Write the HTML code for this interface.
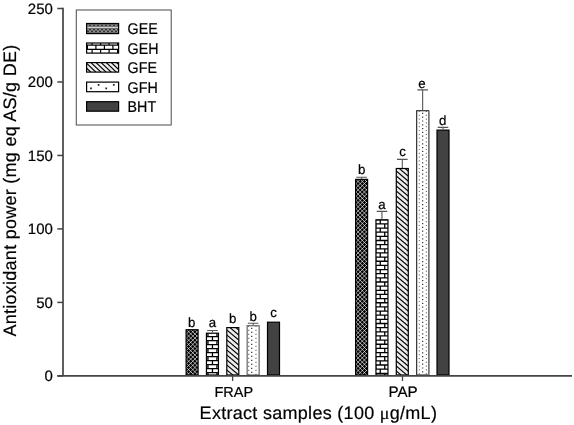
<!DOCTYPE html><html><head><meta charset="utf-8"><style>html,body{margin:0;padding:0;background:#fff;}text{stroke:#000;stroke-width:0.2px;text-rendering:geometricPrecision;}svg{display:block;filter:blur(0.3px);}</style></head><body>
<svg width="574" height="425" viewBox="0 0 574 425" font-family='"Liberation Sans", sans-serif'>
<rect width="574" height="425" fill="#fff"/>
<clipPath id="c1"><rect x="186.1" y="329.7" width="12" height="45.3"/></clipPath>
<g clip-path="url(#c1)">
<rect x="186.1" y="329.7" width="12" height="45.3" fill="#000"/>
<path d="M136.1,329.7 L181.4,375 M136.1,329.7 L90.8,375 M140.3,329.7 L185.6,375 M140.3,329.7 L95,375 M144.5,329.7 L189.8,375 M144.5,329.7 L99.2,375 M148.7,329.7 L194,375 M148.7,329.7 L103.4,375 M152.9,329.7 L198.2,375 M152.9,329.7 L107.6,375 M157.1,329.7 L202.4,375 M157.1,329.7 L111.8,375 M161.3,329.7 L206.6,375 M161.3,329.7 L116,375 M165.5,329.7 L210.8,375 M165.5,329.7 L120.2,375 M169.7,329.7 L215,375 M169.7,329.7 L124.4,375 M173.9,329.7 L219.2,375 M173.9,329.7 L128.6,375 M178.1,329.7 L223.4,375 M178.1,329.7 L132.8,375 M182.3,329.7 L227.6,375 M182.3,329.7 L137,375 M186.5,329.7 L231.8,375 M186.5,329.7 L141.2,375 M190.7,329.7 L236,375 M190.7,329.7 L145.4,375 M194.9,329.7 L240.2,375 M194.9,329.7 L149.6,375 M199.1,329.7 L244.4,375 M199.1,329.7 L153.8,375 M203.3,329.7 L248.6,375 M203.3,329.7 L158,375 M207.5,329.7 L252.8,375 M207.5,329.7 L162.2,375 M211.7,329.7 L257,375 M211.7,329.7 L166.4,375 M215.9,329.7 L261.2,375 M215.9,329.7 L170.6,375 M220.1,329.7 L265.4,375 M220.1,329.7 L174.8,375 M224.3,329.7 L269.6,375 M224.3,329.7 L179,375 M228.5,329.7 L273.8,375 M228.5,329.7 L183.2,375 M232.7,329.7 L278,375 M232.7,329.7 L187.4,375 M236.9,329.7 L282.2,375 M236.9,329.7 L191.6,375 M241.1,329.7 L286.4,375 M241.1,329.7 L195.8,375 M245.3,329.7 L290.6,375 M245.3,329.7 L200,375 M249.5,329.7 L294.8,375 M249.5,329.7 L204.2,375" stroke="#f4f4f4" stroke-width="0.68" fill="none"/>
</g>
<rect x="186.1" y="329.7" width="12" height="45.3" fill="none" stroke="#000" stroke-width="1.2"/>
<text transform="translate(191.8,326.5) scale(0.99,1)" font-size="13.4" text-anchor="middle">b</text>
<clipPath id="c2"><rect x="206.45" y="333.2" width="12" height="41.8"/></clipPath>
<g clip-path="url(#c2)">
<rect x="206.45" y="333.2" width="12" height="41.8" fill="#fff"/>
<path d="M206.45,328.6 H218.45 M194.45,328.6 V332.6 M203.45,328.6 V332.6 M212.45,328.6 V332.6 M221.45,328.6 V332.6 M230.45,328.6 V332.6 M206.45,332.6 H218.45 M189.95,332.6 V336.6 M198.95,332.6 V336.6 M207.95,332.6 V336.6 M216.95,332.6 V336.6 M225.95,332.6 V336.6 M234.95,332.6 V336.6 M206.45,336.6 H218.45 M194.45,336.6 V340.6 M203.45,336.6 V340.6 M212.45,336.6 V340.6 M221.45,336.6 V340.6 M230.45,336.6 V340.6 M206.45,340.6 H218.45 M189.95,340.6 V344.6 M198.95,340.6 V344.6 M207.95,340.6 V344.6 M216.95,340.6 V344.6 M225.95,340.6 V344.6 M234.95,340.6 V344.6 M206.45,344.6 H218.45 M194.45,344.6 V348.6 M203.45,344.6 V348.6 M212.45,344.6 V348.6 M221.45,344.6 V348.6 M230.45,344.6 V348.6 M206.45,348.6 H218.45 M189.95,348.6 V352.6 M198.95,348.6 V352.6 M207.95,348.6 V352.6 M216.95,348.6 V352.6 M225.95,348.6 V352.6 M234.95,348.6 V352.6 M206.45,352.6 H218.45 M194.45,352.6 V356.6 M203.45,352.6 V356.6 M212.45,352.6 V356.6 M221.45,352.6 V356.6 M230.45,352.6 V356.6 M206.45,356.6 H218.45 M189.95,356.6 V360.6 M198.95,356.6 V360.6 M207.95,356.6 V360.6 M216.95,356.6 V360.6 M225.95,356.6 V360.6 M234.95,356.6 V360.6 M206.45,360.6 H218.45 M194.45,360.6 V364.6 M203.45,360.6 V364.6 M212.45,360.6 V364.6 M221.45,360.6 V364.6 M230.45,360.6 V364.6 M206.45,364.6 H218.45 M189.95,364.6 V368.6 M198.95,364.6 V368.6 M207.95,364.6 V368.6 M216.95,364.6 V368.6 M225.95,364.6 V368.6 M234.95,364.6 V368.6 M206.45,368.6 H218.45 M194.45,368.6 V372.6 M203.45,368.6 V372.6 M212.45,368.6 V372.6 M221.45,368.6 V372.6 M230.45,368.6 V372.6 M206.45,372.6 H218.45 M189.95,372.6 V376.6 M198.95,372.6 V376.6 M207.95,372.6 V376.6 M216.95,372.6 V376.6 M225.95,372.6 V376.6 M234.95,372.6 V376.6 M206.45,376.6 H218.45 M194.45,376.6 V380.6 M203.45,376.6 V380.6 M212.45,376.6 V380.6 M221.45,376.6 V380.6 M230.45,376.6 V380.6 M206.45,380.6 H218.45 M189.95,380.6 V384.6 M198.95,380.6 V384.6 M207.95,380.6 V384.6 M216.95,380.6 V384.6 M225.95,380.6 V384.6 M234.95,380.6 V384.6" stroke="#000" stroke-width="1.3" fill="none"/>
</g>
<rect x="206.45" y="333.2" width="12" height="41.8" fill="none" stroke="#000" stroke-width="1.2"/>
<path d="M212.45,332.6 V330.5 M207.15,330.5 H217.75" stroke="#555" stroke-width="1.1" fill="none"/>
<text transform="translate(212.45,327.4) scale(0.99,1)" font-size="13.4" text-anchor="middle">a</text>
<clipPath id="c3"><rect x="226.8" y="327.6" width="12" height="47.4"/></clipPath>
<g clip-path="url(#c3)">
<rect x="226.8" y="327.6" width="12" height="47.4" fill="#ececec"/>
<path d="M225.8,309.06 L239.8,320.96 M225.8,314.06 L239.8,325.96 M225.8,319.06 L239.8,330.96 M225.8,324.06 L239.8,335.96 M225.8,329.06 L239.8,340.96 M225.8,334.06 L239.8,345.96 M225.8,339.06 L239.8,350.96 M225.8,344.06 L239.8,355.96 M225.8,349.06 L239.8,360.96 M225.8,354.06 L239.8,365.96 M225.8,359.06 L239.8,370.96 M225.8,364.06 L239.8,375.96 M225.8,369.06 L239.8,380.96 M225.8,374.06 L239.8,385.96 M225.8,379.06 L239.8,390.96 M225.8,384.06 L239.8,395.96" stroke="#000" stroke-width="1.1" fill="none"/>
</g>
<rect x="226.8" y="327.6" width="12" height="47.4" fill="none" stroke="#000" stroke-width="1.2"/>
<text transform="translate(232.8,323.3) scale(0.99,1)" font-size="13.4" text-anchor="middle">b</text>
<clipPath id="c4"><rect x="247.15" y="325.7" width="12" height="49.3"/></clipPath>
<g clip-path="url(#c4)">
<rect x="247.15" y="325.7" width="12" height="49.3" fill="#fff"/>
<path d="M248.05,317.7 h1.2 v1.2 h-1.2z M248.05,321.7 h1.2 v1.2 h-1.2z M248.05,325.7 h1.2 v1.2 h-1.2z M248.05,329.7 h1.2 v1.2 h-1.2z M248.05,333.7 h1.2 v1.2 h-1.2z M248.05,337.7 h1.2 v1.2 h-1.2z M248.05,341.7 h1.2 v1.2 h-1.2z M248.05,345.7 h1.2 v1.2 h-1.2z M248.05,349.7 h1.2 v1.2 h-1.2z M248.05,353.7 h1.2 v1.2 h-1.2z M248.05,357.7 h1.2 v1.2 h-1.2z M248.05,361.7 h1.2 v1.2 h-1.2z M248.05,365.7 h1.2 v1.2 h-1.2z M248.05,369.7 h1.2 v1.2 h-1.2z M248.05,373.7 h1.2 v1.2 h-1.2z M248.05,377.7 h1.2 v1.2 h-1.2z M248.05,381.7 h1.2 v1.2 h-1.2z" fill="#777"/>
<path d="M251.15,319.7 h1.2 v1.2 h-1.2z M251.15,323.7 h1.2 v1.2 h-1.2z M251.15,327.7 h1.2 v1.2 h-1.2z M251.15,331.7 h1.2 v1.2 h-1.2z M251.15,335.7 h1.2 v1.2 h-1.2z M251.15,339.7 h1.2 v1.2 h-1.2z M251.15,343.7 h1.2 v1.2 h-1.2z M251.15,347.7 h1.2 v1.2 h-1.2z M251.15,351.7 h1.2 v1.2 h-1.2z M251.15,355.7 h1.2 v1.2 h-1.2z M251.15,359.7 h1.2 v1.2 h-1.2z M251.15,363.7 h1.2 v1.2 h-1.2z M251.15,367.7 h1.2 v1.2 h-1.2z M251.15,371.7 h1.2 v1.2 h-1.2z M251.15,375.7 h1.2 v1.2 h-1.2z M251.15,379.7 h1.2 v1.2 h-1.2z" fill="#333"/>
<path d="M255.35,317.7 h1.2 v1.2 h-1.2z M255.35,321.7 h1.2 v1.2 h-1.2z M255.35,325.7 h1.2 v1.2 h-1.2z M255.35,329.7 h1.2 v1.2 h-1.2z M255.35,333.7 h1.2 v1.2 h-1.2z M255.35,337.7 h1.2 v1.2 h-1.2z M255.35,341.7 h1.2 v1.2 h-1.2z M255.35,345.7 h1.2 v1.2 h-1.2z M255.35,349.7 h1.2 v1.2 h-1.2z M255.35,353.7 h1.2 v1.2 h-1.2z M255.35,357.7 h1.2 v1.2 h-1.2z M255.35,361.7 h1.2 v1.2 h-1.2z M255.35,365.7 h1.2 v1.2 h-1.2z M255.35,369.7 h1.2 v1.2 h-1.2z M255.35,373.7 h1.2 v1.2 h-1.2z M255.35,377.7 h1.2 v1.2 h-1.2z M255.35,381.7 h1.2 v1.2 h-1.2z" fill="#777"/>
</g>
<rect x="247.15" y="325.7" width="12" height="49.3" fill="none" stroke="#666" stroke-width="1.2"/>
<path d="M253.15,325.1 V323.2 M247.85,323.2 H258.45" stroke="#555" stroke-width="1.1" fill="none"/>
<text transform="translate(253.15,321.1) scale(0.99,1)" font-size="13.4" text-anchor="middle">b</text>
<rect x="267.5" y="322.2" width="12" height="52.8" fill="#424242"/>
<rect x="267.5" y="322.2" width="12" height="52.8" fill="none" stroke="#000" stroke-width="1.2"/>
<text transform="translate(273.5,317.4) scale(0.99,1)" font-size="13.4" text-anchor="middle">c</text>
<clipPath id="c5"><rect x="355.6" y="179.4" width="12" height="195.6"/></clipPath>
<g clip-path="url(#c5)">
<rect x="355.6" y="179.4" width="12" height="195.6" fill="#000"/>
<path d="M154.4,179.4 L350,375 M154.4,179.4 L-41.2,375 M158.6,179.4 L354.2,375 M158.6,179.4 L-37,375 M162.8,179.4 L358.4,375 M162.8,179.4 L-32.8,375 M167,179.4 L362.6,375 M167,179.4 L-28.6,375 M171.2,179.4 L366.8,375 M171.2,179.4 L-24.4,375 M175.4,179.4 L371,375 M175.4,179.4 L-20.2,375 M179.6,179.4 L375.2,375 M179.6,179.4 L-16,375 M183.8,179.4 L379.4,375 M183.8,179.4 L-11.8,375 M188,179.4 L383.6,375 M188,179.4 L-7.6,375 M192.2,179.4 L387.8,375 M192.2,179.4 L-3.4,375 M196.4,179.4 L392,375 M196.4,179.4 L0.8,375 M200.6,179.4 L396.2,375 M200.6,179.4 L5,375 M204.8,179.4 L400.4,375 M204.8,179.4 L9.2,375 M209,179.4 L404.6,375 M209,179.4 L13.4,375 M213.2,179.4 L408.8,375 M213.2,179.4 L17.6,375 M217.4,179.4 L413,375 M217.4,179.4 L21.8,375 M221.6,179.4 L417.2,375 M221.6,179.4 L26,375 M225.8,179.4 L421.4,375 M225.8,179.4 L30.2,375 M230,179.4 L425.6,375 M230,179.4 L34.4,375 M234.2,179.4 L429.8,375 M234.2,179.4 L38.6,375 M238.4,179.4 L434,375 M238.4,179.4 L42.8,375 M242.6,179.4 L438.2,375 M242.6,179.4 L47,375 M246.8,179.4 L442.4,375 M246.8,179.4 L51.2,375 M251,179.4 L446.6,375 M251,179.4 L55.4,375 M255.2,179.4 L450.8,375 M255.2,179.4 L59.6,375 M259.4,179.4 L455,375 M259.4,179.4 L63.8,375 M263.6,179.4 L459.2,375 M263.6,179.4 L68,375 M267.8,179.4 L463.4,375 M267.8,179.4 L72.2,375 M272,179.4 L467.6,375 M272,179.4 L76.4,375 M276.2,179.4 L471.8,375 M276.2,179.4 L80.6,375 M280.4,179.4 L476,375 M280.4,179.4 L84.8,375 M284.6,179.4 L480.2,375 M284.6,179.4 L89,375 M288.8,179.4 L484.4,375 M288.8,179.4 L93.2,375 M293,179.4 L488.6,375 M293,179.4 L97.4,375 M297.2,179.4 L492.8,375 M297.2,179.4 L101.6,375 M301.4,179.4 L497,375 M301.4,179.4 L105.8,375 M305.6,179.4 L501.2,375 M305.6,179.4 L110,375 M309.8,179.4 L505.4,375 M309.8,179.4 L114.2,375 M314,179.4 L509.6,375 M314,179.4 L118.4,375 M318.2,179.4 L513.8,375 M318.2,179.4 L122.6,375 M322.4,179.4 L518,375 M322.4,179.4 L126.8,375 M326.6,179.4 L522.2,375 M326.6,179.4 L131,375 M330.8,179.4 L526.4,375 M330.8,179.4 L135.2,375 M335,179.4 L530.6,375 M335,179.4 L139.4,375 M339.2,179.4 L534.8,375 M339.2,179.4 L143.6,375 M343.4,179.4 L539,375 M343.4,179.4 L147.8,375 M347.6,179.4 L543.2,375 M347.6,179.4 L152,375 M351.8,179.4 L547.4,375 M351.8,179.4 L156.2,375 M356,179.4 L551.6,375 M356,179.4 L160.4,375 M360.2,179.4 L555.8,375 M360.2,179.4 L164.6,375 M364.4,179.4 L560,375 M364.4,179.4 L168.8,375 M368.6,179.4 L564.2,375 M368.6,179.4 L173,375 M372.8,179.4 L568.4,375 M372.8,179.4 L177.2,375 M377,179.4 L572.6,375 M377,179.4 L181.4,375 M381.2,179.4 L576.8,375 M381.2,179.4 L185.6,375 M385.4,179.4 L581,375 M385.4,179.4 L189.8,375 M389.6,179.4 L585.2,375 M389.6,179.4 L194,375 M393.8,179.4 L589.4,375 M393.8,179.4 L198.2,375 M398,179.4 L593.6,375 M398,179.4 L202.4,375 M402.2,179.4 L597.8,375 M402.2,179.4 L206.6,375 M406.4,179.4 L602,375 M406.4,179.4 L210.8,375 M410.6,179.4 L606.2,375 M410.6,179.4 L215,375 M414.8,179.4 L610.4,375 M414.8,179.4 L219.2,375 M419,179.4 L614.6,375 M419,179.4 L223.4,375 M423.2,179.4 L618.8,375 M423.2,179.4 L227.6,375 M427.4,179.4 L623,375 M427.4,179.4 L231.8,375 M431.6,179.4 L627.2,375 M431.6,179.4 L236,375 M435.8,179.4 L631.4,375 M435.8,179.4 L240.2,375 M440,179.4 L635.6,375 M440,179.4 L244.4,375 M444.2,179.4 L639.8,375 M444.2,179.4 L248.6,375 M448.4,179.4 L644,375 M448.4,179.4 L252.8,375 M452.6,179.4 L648.2,375 M452.6,179.4 L257,375 M456.8,179.4 L652.4,375 M456.8,179.4 L261.2,375 M461,179.4 L656.6,375 M461,179.4 L265.4,375 M465.2,179.4 L660.8,375 M465.2,179.4 L269.6,375 M469.4,179.4 L665,375 M469.4,179.4 L273.8,375 M473.6,179.4 L669.2,375 M473.6,179.4 L278,375 M477.8,179.4 L673.4,375 M477.8,179.4 L282.2,375 M482,179.4 L677.6,375 M482,179.4 L286.4,375 M486.2,179.4 L681.8,375 M486.2,179.4 L290.6,375 M490.4,179.4 L686,375 M490.4,179.4 L294.8,375 M494.6,179.4 L690.2,375 M494.6,179.4 L299,375 M498.8,179.4 L694.4,375 M498.8,179.4 L303.2,375 M503,179.4 L698.6,375 M503,179.4 L307.4,375 M507.2,179.4 L702.8,375 M507.2,179.4 L311.6,375 M511.4,179.4 L707,375 M511.4,179.4 L315.8,375 M515.6,179.4 L711.2,375 M515.6,179.4 L320,375 M519.8,179.4 L715.4,375 M519.8,179.4 L324.2,375 M524,179.4 L719.6,375 M524,179.4 L328.4,375 M528.2,179.4 L723.8,375 M528.2,179.4 L332.6,375 M532.4,179.4 L728,375 M532.4,179.4 L336.8,375 M536.6,179.4 L732.2,375 M536.6,179.4 L341,375 M540.8,179.4 L736.4,375 M540.8,179.4 L345.2,375 M545,179.4 L740.6,375 M545,179.4 L349.4,375 M549.2,179.4 L744.8,375 M549.2,179.4 L353.6,375 M553.4,179.4 L749,375 M553.4,179.4 L357.8,375 M557.6,179.4 L753.2,375 M557.6,179.4 L362,375 M561.8,179.4 L757.4,375 M561.8,179.4 L366.2,375 M566,179.4 L761.6,375 M566,179.4 L370.4,375 M570.2,179.4 L765.8,375 M570.2,179.4 L374.6,375" stroke="#f4f4f4" stroke-width="0.68" fill="none"/>
</g>
<rect x="355.6" y="179.4" width="12" height="195.6" fill="none" stroke="#000" stroke-width="1.2"/>
<path d="M361.6,178.8 V177.2 M356.3,177.2 H366.9" stroke="#555" stroke-width="1.1" fill="none"/>
<text transform="translate(361.6,174.3) scale(0.99,1)" font-size="13.4" text-anchor="middle">b</text>
<clipPath id="c6"><rect x="375.95" y="219.8" width="12" height="155.2"/></clipPath>
<g clip-path="url(#c6)">
<rect x="375.95" y="219.8" width="12" height="155.2" fill="#fff"/>
<path d="M375.95,215.6 H387.95 M366.75,215.6 V219.75 M375.75,215.6 V219.75 M384.75,215.6 V219.75 M393.75,215.6 V219.75 M402.75,215.6 V219.75 M375.95,219.75 H387.95 M362.25,219.75 V223.9 M371.25,219.75 V223.9 M380.25,219.75 V223.9 M389.25,219.75 V223.9 M398.25,219.75 V223.9 M375.95,223.9 H387.95 M366.75,223.9 V228.05 M375.75,223.9 V228.05 M384.75,223.9 V228.05 M393.75,223.9 V228.05 M402.75,223.9 V228.05 M375.95,228.05 H387.95 M362.25,228.05 V232.2 M371.25,228.05 V232.2 M380.25,228.05 V232.2 M389.25,228.05 V232.2 M398.25,228.05 V232.2 M375.95,232.2 H387.95 M366.75,232.2 V236.35 M375.75,232.2 V236.35 M384.75,232.2 V236.35 M393.75,232.2 V236.35 M402.75,232.2 V236.35 M375.95,236.35 H387.95 M362.25,236.35 V240.5 M371.25,236.35 V240.5 M380.25,236.35 V240.5 M389.25,236.35 V240.5 M398.25,236.35 V240.5 M375.95,240.5 H387.95 M366.75,240.5 V244.65 M375.75,240.5 V244.65 M384.75,240.5 V244.65 M393.75,240.5 V244.65 M402.75,240.5 V244.65 M375.95,244.65 H387.95 M362.25,244.65 V248.8 M371.25,244.65 V248.8 M380.25,244.65 V248.8 M389.25,244.65 V248.8 M398.25,244.65 V248.8 M375.95,248.8 H387.95 M366.75,248.8 V252.95 M375.75,248.8 V252.95 M384.75,248.8 V252.95 M393.75,248.8 V252.95 M402.75,248.8 V252.95 M375.95,252.95 H387.95 M362.25,252.95 V257.1 M371.25,252.95 V257.1 M380.25,252.95 V257.1 M389.25,252.95 V257.1 M398.25,252.95 V257.1 M375.95,257.1 H387.95 M366.75,257.1 V261.25 M375.75,257.1 V261.25 M384.75,257.1 V261.25 M393.75,257.1 V261.25 M402.75,257.1 V261.25 M375.95,261.25 H387.95 M362.25,261.25 V265.4 M371.25,261.25 V265.4 M380.25,261.25 V265.4 M389.25,261.25 V265.4 M398.25,261.25 V265.4 M375.95,265.4 H387.95 M366.75,265.4 V269.55 M375.75,265.4 V269.55 M384.75,265.4 V269.55 M393.75,265.4 V269.55 M402.75,265.4 V269.55 M375.95,269.55 H387.95 M362.25,269.55 V273.7 M371.25,269.55 V273.7 M380.25,269.55 V273.7 M389.25,269.55 V273.7 M398.25,269.55 V273.7 M375.95,273.7 H387.95 M366.75,273.7 V277.85 M375.75,273.7 V277.85 M384.75,273.7 V277.85 M393.75,273.7 V277.85 M402.75,273.7 V277.85 M375.95,277.85 H387.95 M362.25,277.85 V282 M371.25,277.85 V282 M380.25,277.85 V282 M389.25,277.85 V282 M398.25,277.85 V282 M375.95,282 H387.95 M366.75,282 V286.15 M375.75,282 V286.15 M384.75,282 V286.15 M393.75,282 V286.15 M402.75,282 V286.15 M375.95,286.15 H387.95 M362.25,286.15 V290.3 M371.25,286.15 V290.3 M380.25,286.15 V290.3 M389.25,286.15 V290.3 M398.25,286.15 V290.3 M375.95,290.3 H387.95 M366.75,290.3 V294.45 M375.75,290.3 V294.45 M384.75,290.3 V294.45 M393.75,290.3 V294.45 M402.75,290.3 V294.45 M375.95,294.45 H387.95 M362.25,294.45 V298.6 M371.25,294.45 V298.6 M380.25,294.45 V298.6 M389.25,294.45 V298.6 M398.25,294.45 V298.6 M375.95,298.6 H387.95 M366.75,298.6 V302.75 M375.75,298.6 V302.75 M384.75,298.6 V302.75 M393.75,298.6 V302.75 M402.75,298.6 V302.75 M375.95,302.75 H387.95 M362.25,302.75 V306.9 M371.25,302.75 V306.9 M380.25,302.75 V306.9 M389.25,302.75 V306.9 M398.25,302.75 V306.9 M375.95,306.9 H387.95 M366.75,306.9 V311.05 M375.75,306.9 V311.05 M384.75,306.9 V311.05 M393.75,306.9 V311.05 M402.75,306.9 V311.05 M375.95,311.05 H387.95 M362.25,311.05 V315.2 M371.25,311.05 V315.2 M380.25,311.05 V315.2 M389.25,311.05 V315.2 M398.25,311.05 V315.2 M375.95,315.2 H387.95 M366.75,315.2 V319.35 M375.75,315.2 V319.35 M384.75,315.2 V319.35 M393.75,315.2 V319.35 M402.75,315.2 V319.35 M375.95,319.35 H387.95 M362.25,319.35 V323.5 M371.25,319.35 V323.5 M380.25,319.35 V323.5 M389.25,319.35 V323.5 M398.25,319.35 V323.5 M375.95,323.5 H387.95 M366.75,323.5 V327.65 M375.75,323.5 V327.65 M384.75,323.5 V327.65 M393.75,323.5 V327.65 M402.75,323.5 V327.65 M375.95,327.65 H387.95 M362.25,327.65 V331.8 M371.25,327.65 V331.8 M380.25,327.65 V331.8 M389.25,327.65 V331.8 M398.25,327.65 V331.8 M375.95,331.8 H387.95 M366.75,331.8 V335.95 M375.75,331.8 V335.95 M384.75,331.8 V335.95 M393.75,331.8 V335.95 M402.75,331.8 V335.95 M375.95,335.95 H387.95 M362.25,335.95 V340.1 M371.25,335.95 V340.1 M380.25,335.95 V340.1 M389.25,335.95 V340.1 M398.25,335.95 V340.1 M375.95,340.1 H387.95 M366.75,340.1 V344.25 M375.75,340.1 V344.25 M384.75,340.1 V344.25 M393.75,340.1 V344.25 M402.75,340.1 V344.25 M375.95,344.25 H387.95 M362.25,344.25 V348.4 M371.25,344.25 V348.4 M380.25,344.25 V348.4 M389.25,344.25 V348.4 M398.25,344.25 V348.4 M375.95,348.4 H387.95 M366.75,348.4 V352.55 M375.75,348.4 V352.55 M384.75,348.4 V352.55 M393.75,348.4 V352.55 M402.75,348.4 V352.55 M375.95,352.55 H387.95 M362.25,352.55 V356.7 M371.25,352.55 V356.7 M380.25,352.55 V356.7 M389.25,352.55 V356.7 M398.25,352.55 V356.7 M375.95,356.7 H387.95 M366.75,356.7 V360.85 M375.75,356.7 V360.85 M384.75,356.7 V360.85 M393.75,356.7 V360.85 M402.75,356.7 V360.85 M375.95,360.85 H387.95 M362.25,360.85 V365 M371.25,360.85 V365 M380.25,360.85 V365 M389.25,360.85 V365 M398.25,360.85 V365 M375.95,365 H387.95 M366.75,365 V369.15 M375.75,365 V369.15 M384.75,365 V369.15 M393.75,365 V369.15 M402.75,365 V369.15 M375.95,369.15 H387.95 M362.25,369.15 V373.3 M371.25,369.15 V373.3 M380.25,369.15 V373.3 M389.25,369.15 V373.3 M398.25,369.15 V373.3 M375.95,373.3 H387.95 M366.75,373.3 V377.45 M375.75,373.3 V377.45 M384.75,373.3 V377.45 M393.75,373.3 V377.45 M402.75,373.3 V377.45 M375.95,377.45 H387.95 M362.25,377.45 V381.6 M371.25,377.45 V381.6 M380.25,377.45 V381.6 M389.25,377.45 V381.6 M398.25,377.45 V381.6 M375.95,381.6 H387.95 M366.75,381.6 V385.75 M375.75,381.6 V385.75 M384.75,381.6 V385.75 M393.75,381.6 V385.75 M402.75,381.6 V385.75" stroke="#000" stroke-width="1.3" fill="none"/>
</g>
<rect x="375.95" y="219.8" width="12" height="155.2" fill="none" stroke="#000" stroke-width="1.2"/>
<path d="M381.95,219.2 V211.4 M376.65,211.4 H387.25" stroke="#555" stroke-width="1.1" fill="none"/>
<text transform="translate(381.95,208.8) scale(0.99,1)" font-size="13.4" text-anchor="middle">a</text>
<clipPath id="c7"><rect x="396.3" y="168.5" width="12" height="206.5"/></clipPath>
<g clip-path="url(#c7)">
<rect x="396.3" y="168.5" width="12" height="206.5" fill="#ececec"/>
<path d="M395.3,150.16 L409.3,162.06 M395.3,155.16 L409.3,167.06 M395.3,160.16 L409.3,172.06 M395.3,165.16 L409.3,177.06 M395.3,170.16 L409.3,182.06 M395.3,175.16 L409.3,187.06 M395.3,180.16 L409.3,192.06 M395.3,185.16 L409.3,197.06 M395.3,190.16 L409.3,202.06 M395.3,195.16 L409.3,207.06 M395.3,200.16 L409.3,212.06 M395.3,205.16 L409.3,217.06 M395.3,210.16 L409.3,222.06 M395.3,215.16 L409.3,227.06 M395.3,220.16 L409.3,232.06 M395.3,225.16 L409.3,237.06 M395.3,230.16 L409.3,242.06 M395.3,235.16 L409.3,247.06 M395.3,240.16 L409.3,252.06 M395.3,245.16 L409.3,257.06 M395.3,250.16 L409.3,262.06 M395.3,255.16 L409.3,267.06 M395.3,260.16 L409.3,272.06 M395.3,265.16 L409.3,277.06 M395.3,270.16 L409.3,282.06 M395.3,275.16 L409.3,287.06 M395.3,280.16 L409.3,292.06 M395.3,285.16 L409.3,297.06 M395.3,290.16 L409.3,302.06 M395.3,295.16 L409.3,307.06 M395.3,300.16 L409.3,312.06 M395.3,305.16 L409.3,317.06 M395.3,310.16 L409.3,322.06 M395.3,315.16 L409.3,327.06 M395.3,320.16 L409.3,332.06 M395.3,325.16 L409.3,337.06 M395.3,330.16 L409.3,342.06 M395.3,335.16 L409.3,347.06 M395.3,340.16 L409.3,352.06 M395.3,345.16 L409.3,357.06 M395.3,350.16 L409.3,362.06 M395.3,355.16 L409.3,367.06 M395.3,360.16 L409.3,372.06 M395.3,365.16 L409.3,377.06 M395.3,370.16 L409.3,382.06 M395.3,375.16 L409.3,387.06 M395.3,380.16 L409.3,392.06" stroke="#000" stroke-width="1.1" fill="none"/>
</g>
<rect x="396.3" y="168.5" width="12" height="206.5" fill="none" stroke="#000" stroke-width="1.2"/>
<path d="M402.3,167.9 V159.4 M397,159.4 H407.6" stroke="#555" stroke-width="1.1" fill="none"/>
<text transform="translate(402.6,156.4) scale(0.99,1)" font-size="13.4" text-anchor="middle">c</text>
<clipPath id="c8"><rect x="416.65" y="110.7" width="12" height="264.3"/></clipPath>
<g clip-path="url(#c8)">
<rect x="416.65" y="110.7" width="12" height="264.3" fill="#fff"/>
<path d="M418.75,103.3 h1.2 v1.2 h-1.2z M418.75,107.1 h1.2 v1.2 h-1.2z M418.75,110.9 h1.2 v1.2 h-1.2z M418.75,114.7 h1.2 v1.2 h-1.2z M418.75,118.5 h1.2 v1.2 h-1.2z M418.75,122.3 h1.2 v1.2 h-1.2z M418.75,126.1 h1.2 v1.2 h-1.2z M418.75,129.9 h1.2 v1.2 h-1.2z M418.75,133.7 h1.2 v1.2 h-1.2z M418.75,137.5 h1.2 v1.2 h-1.2z M418.75,141.3 h1.2 v1.2 h-1.2z M418.75,145.1 h1.2 v1.2 h-1.2z M418.75,148.9 h1.2 v1.2 h-1.2z M418.75,152.7 h1.2 v1.2 h-1.2z M418.75,156.5 h1.2 v1.2 h-1.2z M418.75,160.3 h1.2 v1.2 h-1.2z M418.75,164.1 h1.2 v1.2 h-1.2z M418.75,167.9 h1.2 v1.2 h-1.2z M418.75,171.7 h1.2 v1.2 h-1.2z M418.75,175.5 h1.2 v1.2 h-1.2z M418.75,179.3 h1.2 v1.2 h-1.2z M418.75,183.1 h1.2 v1.2 h-1.2z M418.75,186.9 h1.2 v1.2 h-1.2z M418.75,190.7 h1.2 v1.2 h-1.2z M418.75,194.5 h1.2 v1.2 h-1.2z M418.75,198.3 h1.2 v1.2 h-1.2z M418.75,202.1 h1.2 v1.2 h-1.2z M418.75,205.9 h1.2 v1.2 h-1.2z M418.75,209.7 h1.2 v1.2 h-1.2z M418.75,213.5 h1.2 v1.2 h-1.2z M418.75,217.3 h1.2 v1.2 h-1.2z M418.75,221.1 h1.2 v1.2 h-1.2z M418.75,224.9 h1.2 v1.2 h-1.2z M418.75,228.7 h1.2 v1.2 h-1.2z M418.75,232.5 h1.2 v1.2 h-1.2z M418.75,236.3 h1.2 v1.2 h-1.2z M418.75,240.1 h1.2 v1.2 h-1.2z M418.75,243.9 h1.2 v1.2 h-1.2z M418.75,247.7 h1.2 v1.2 h-1.2z M418.75,251.5 h1.2 v1.2 h-1.2z M418.75,255.3 h1.2 v1.2 h-1.2z M418.75,259.1 h1.2 v1.2 h-1.2z M418.75,262.9 h1.2 v1.2 h-1.2z M418.75,266.7 h1.2 v1.2 h-1.2z M418.75,270.5 h1.2 v1.2 h-1.2z M418.75,274.3 h1.2 v1.2 h-1.2z M418.75,278.1 h1.2 v1.2 h-1.2z M418.75,281.9 h1.2 v1.2 h-1.2z M418.75,285.7 h1.2 v1.2 h-1.2z M418.75,289.5 h1.2 v1.2 h-1.2z M418.75,293.3 h1.2 v1.2 h-1.2z M418.75,297.1 h1.2 v1.2 h-1.2z M418.75,300.9 h1.2 v1.2 h-1.2z M418.75,304.7 h1.2 v1.2 h-1.2z M418.75,308.5 h1.2 v1.2 h-1.2z M418.75,312.3 h1.2 v1.2 h-1.2z M418.75,316.1 h1.2 v1.2 h-1.2z M418.75,319.9 h1.2 v1.2 h-1.2z M418.75,323.7 h1.2 v1.2 h-1.2z M418.75,327.5 h1.2 v1.2 h-1.2z M418.75,331.3 h1.2 v1.2 h-1.2z M418.75,335.1 h1.2 v1.2 h-1.2z M418.75,338.9 h1.2 v1.2 h-1.2z M418.75,342.7 h1.2 v1.2 h-1.2z M418.75,346.5 h1.2 v1.2 h-1.2z M418.75,350.3 h1.2 v1.2 h-1.2z M418.75,354.1 h1.2 v1.2 h-1.2z M418.75,357.9 h1.2 v1.2 h-1.2z M418.75,361.7 h1.2 v1.2 h-1.2z M418.75,365.5 h1.2 v1.2 h-1.2z M418.75,369.3 h1.2 v1.2 h-1.2z M418.75,373.1 h1.2 v1.2 h-1.2z M418.75,376.9 h1.2 v1.2 h-1.2z M418.75,380.7 h1.2 v1.2 h-1.2z" fill="#888"/>
<path d="M422.05,105.2 h1.2 v1.2 h-1.2z M422.05,109 h1.2 v1.2 h-1.2z M422.05,112.8 h1.2 v1.2 h-1.2z M422.05,116.6 h1.2 v1.2 h-1.2z M422.05,120.4 h1.2 v1.2 h-1.2z M422.05,124.2 h1.2 v1.2 h-1.2z M422.05,128 h1.2 v1.2 h-1.2z M422.05,131.8 h1.2 v1.2 h-1.2z M422.05,135.6 h1.2 v1.2 h-1.2z M422.05,139.4 h1.2 v1.2 h-1.2z M422.05,143.2 h1.2 v1.2 h-1.2z M422.05,147 h1.2 v1.2 h-1.2z M422.05,150.8 h1.2 v1.2 h-1.2z M422.05,154.6 h1.2 v1.2 h-1.2z M422.05,158.4 h1.2 v1.2 h-1.2z M422.05,162.2 h1.2 v1.2 h-1.2z M422.05,166 h1.2 v1.2 h-1.2z M422.05,169.8 h1.2 v1.2 h-1.2z M422.05,173.6 h1.2 v1.2 h-1.2z M422.05,177.4 h1.2 v1.2 h-1.2z M422.05,181.2 h1.2 v1.2 h-1.2z M422.05,185 h1.2 v1.2 h-1.2z M422.05,188.8 h1.2 v1.2 h-1.2z M422.05,192.6 h1.2 v1.2 h-1.2z M422.05,196.4 h1.2 v1.2 h-1.2z M422.05,200.2 h1.2 v1.2 h-1.2z M422.05,204 h1.2 v1.2 h-1.2z M422.05,207.8 h1.2 v1.2 h-1.2z M422.05,211.6 h1.2 v1.2 h-1.2z M422.05,215.4 h1.2 v1.2 h-1.2z M422.05,219.2 h1.2 v1.2 h-1.2z M422.05,223 h1.2 v1.2 h-1.2z M422.05,226.8 h1.2 v1.2 h-1.2z M422.05,230.6 h1.2 v1.2 h-1.2z M422.05,234.4 h1.2 v1.2 h-1.2z M422.05,238.2 h1.2 v1.2 h-1.2z M422.05,242 h1.2 v1.2 h-1.2z M422.05,245.8 h1.2 v1.2 h-1.2z M422.05,249.6 h1.2 v1.2 h-1.2z M422.05,253.4 h1.2 v1.2 h-1.2z M422.05,257.2 h1.2 v1.2 h-1.2z M422.05,261 h1.2 v1.2 h-1.2z M422.05,264.8 h1.2 v1.2 h-1.2z M422.05,268.6 h1.2 v1.2 h-1.2z M422.05,272.4 h1.2 v1.2 h-1.2z M422.05,276.2 h1.2 v1.2 h-1.2z M422.05,280 h1.2 v1.2 h-1.2z M422.05,283.8 h1.2 v1.2 h-1.2z M422.05,287.6 h1.2 v1.2 h-1.2z M422.05,291.4 h1.2 v1.2 h-1.2z M422.05,295.2 h1.2 v1.2 h-1.2z M422.05,299 h1.2 v1.2 h-1.2z M422.05,302.8 h1.2 v1.2 h-1.2z M422.05,306.6 h1.2 v1.2 h-1.2z M422.05,310.4 h1.2 v1.2 h-1.2z M422.05,314.2 h1.2 v1.2 h-1.2z M422.05,318 h1.2 v1.2 h-1.2z M422.05,321.8 h1.2 v1.2 h-1.2z M422.05,325.6 h1.2 v1.2 h-1.2z M422.05,329.4 h1.2 v1.2 h-1.2z M422.05,333.2 h1.2 v1.2 h-1.2z M422.05,337 h1.2 v1.2 h-1.2z M422.05,340.8 h1.2 v1.2 h-1.2z M422.05,344.6 h1.2 v1.2 h-1.2z M422.05,348.4 h1.2 v1.2 h-1.2z M422.05,352.2 h1.2 v1.2 h-1.2z M422.05,356 h1.2 v1.2 h-1.2z M422.05,359.8 h1.2 v1.2 h-1.2z M422.05,363.6 h1.2 v1.2 h-1.2z M422.05,367.4 h1.2 v1.2 h-1.2z M422.05,371.2 h1.2 v1.2 h-1.2z M422.05,375 h1.2 v1.2 h-1.2z M422.05,378.8 h1.2 v1.2 h-1.2z" fill="#333"/>
<path d="M425.75,103.3 h1.2 v1.2 h-1.2z M425.75,107.1 h1.2 v1.2 h-1.2z M425.75,110.9 h1.2 v1.2 h-1.2z M425.75,114.7 h1.2 v1.2 h-1.2z M425.75,118.5 h1.2 v1.2 h-1.2z M425.75,122.3 h1.2 v1.2 h-1.2z M425.75,126.1 h1.2 v1.2 h-1.2z M425.75,129.9 h1.2 v1.2 h-1.2z M425.75,133.7 h1.2 v1.2 h-1.2z M425.75,137.5 h1.2 v1.2 h-1.2z M425.75,141.3 h1.2 v1.2 h-1.2z M425.75,145.1 h1.2 v1.2 h-1.2z M425.75,148.9 h1.2 v1.2 h-1.2z M425.75,152.7 h1.2 v1.2 h-1.2z M425.75,156.5 h1.2 v1.2 h-1.2z M425.75,160.3 h1.2 v1.2 h-1.2z M425.75,164.1 h1.2 v1.2 h-1.2z M425.75,167.9 h1.2 v1.2 h-1.2z M425.75,171.7 h1.2 v1.2 h-1.2z M425.75,175.5 h1.2 v1.2 h-1.2z M425.75,179.3 h1.2 v1.2 h-1.2z M425.75,183.1 h1.2 v1.2 h-1.2z M425.75,186.9 h1.2 v1.2 h-1.2z M425.75,190.7 h1.2 v1.2 h-1.2z M425.75,194.5 h1.2 v1.2 h-1.2z M425.75,198.3 h1.2 v1.2 h-1.2z M425.75,202.1 h1.2 v1.2 h-1.2z M425.75,205.9 h1.2 v1.2 h-1.2z M425.75,209.7 h1.2 v1.2 h-1.2z M425.75,213.5 h1.2 v1.2 h-1.2z M425.75,217.3 h1.2 v1.2 h-1.2z M425.75,221.1 h1.2 v1.2 h-1.2z M425.75,224.9 h1.2 v1.2 h-1.2z M425.75,228.7 h1.2 v1.2 h-1.2z M425.75,232.5 h1.2 v1.2 h-1.2z M425.75,236.3 h1.2 v1.2 h-1.2z M425.75,240.1 h1.2 v1.2 h-1.2z M425.75,243.9 h1.2 v1.2 h-1.2z M425.75,247.7 h1.2 v1.2 h-1.2z M425.75,251.5 h1.2 v1.2 h-1.2z M425.75,255.3 h1.2 v1.2 h-1.2z M425.75,259.1 h1.2 v1.2 h-1.2z M425.75,262.9 h1.2 v1.2 h-1.2z M425.75,266.7 h1.2 v1.2 h-1.2z M425.75,270.5 h1.2 v1.2 h-1.2z M425.75,274.3 h1.2 v1.2 h-1.2z M425.75,278.1 h1.2 v1.2 h-1.2z M425.75,281.9 h1.2 v1.2 h-1.2z M425.75,285.7 h1.2 v1.2 h-1.2z M425.75,289.5 h1.2 v1.2 h-1.2z M425.75,293.3 h1.2 v1.2 h-1.2z M425.75,297.1 h1.2 v1.2 h-1.2z M425.75,300.9 h1.2 v1.2 h-1.2z M425.75,304.7 h1.2 v1.2 h-1.2z M425.75,308.5 h1.2 v1.2 h-1.2z M425.75,312.3 h1.2 v1.2 h-1.2z M425.75,316.1 h1.2 v1.2 h-1.2z M425.75,319.9 h1.2 v1.2 h-1.2z M425.75,323.7 h1.2 v1.2 h-1.2z M425.75,327.5 h1.2 v1.2 h-1.2z M425.75,331.3 h1.2 v1.2 h-1.2z M425.75,335.1 h1.2 v1.2 h-1.2z M425.75,338.9 h1.2 v1.2 h-1.2z M425.75,342.7 h1.2 v1.2 h-1.2z M425.75,346.5 h1.2 v1.2 h-1.2z M425.75,350.3 h1.2 v1.2 h-1.2z M425.75,354.1 h1.2 v1.2 h-1.2z M425.75,357.9 h1.2 v1.2 h-1.2z M425.75,361.7 h1.2 v1.2 h-1.2z M425.75,365.5 h1.2 v1.2 h-1.2z M425.75,369.3 h1.2 v1.2 h-1.2z M425.75,373.1 h1.2 v1.2 h-1.2z M425.75,376.9 h1.2 v1.2 h-1.2z M425.75,380.7 h1.2 v1.2 h-1.2z" fill="#777"/>
</g>
<rect x="416.65" y="110.7" width="12" height="264.3" fill="none" stroke="#333" stroke-width="1.2"/>
<path d="M428.85,111.3 V375" stroke="#7a7a7a" stroke-width="1.5"/>
<path d="M422.65,110.1 V89.9 M417.35,89.9 H427.95" stroke="#555" stroke-width="1.1" fill="none"/>
<text transform="translate(421.85,87.5) scale(0.99,1)" font-size="13.4" text-anchor="middle">e</text>
<rect x="437" y="130.1" width="12" height="244.9" fill="#424242"/>
<rect x="437" y="130.1" width="12" height="244.9" fill="none" stroke="#000" stroke-width="1.2"/>
<path d="M443,129.5 V127.4 M437.7,127.4 H448.3" stroke="#555" stroke-width="1.1" fill="none"/>
<text transform="translate(442.7,124.6) scale(0.99,1)" font-size="13.4" text-anchor="middle">d</text>
<path d="M63,7.8 V375.9 M57.3,375.9 H572" stroke="#444" stroke-width="1.7" fill="none"/>
<path d="M57.3,375.9 H63" stroke="#444" stroke-width="1.5"/>
<text x="52.9" y="381.2" font-size="15" text-anchor="end">0</text>
<path d="M57.3,302.42 H63" stroke="#444" stroke-width="1.5"/>
<text x="52.9" y="307.72" font-size="15" text-anchor="end">50</text>
<path d="M57.3,228.94 H63" stroke="#444" stroke-width="1.5"/>
<text x="52.9" y="234.24" font-size="15" text-anchor="end">100</text>
<path d="M57.3,155.46 H63" stroke="#444" stroke-width="1.5"/>
<text x="52.9" y="160.76" font-size="15" text-anchor="end">150</text>
<path d="M57.3,81.98 H63" stroke="#444" stroke-width="1.5"/>
<text x="52.9" y="87.28" font-size="15" text-anchor="end">200</text>
<path d="M57.3,8.5 H63" stroke="#444" stroke-width="1.5"/>
<text x="52.9" y="13.8" font-size="15" text-anchor="end">250</text>
<path d="M232.6,375.9 V381" stroke="#444" stroke-width="1.3"/>
<text x="233.75" y="396.9" font-size="14.5" text-anchor="middle">FRAP</text>
<path d="M402.5,375.9 V381" stroke="#444" stroke-width="1.3"/>
<text x="403.1" y="396.9" font-size="15.2" text-anchor="middle">PAP</text>
<text x="199.6" y="418.8" font-size="18" textLength="237.3" lengthAdjust="spacing">Extract samples (100 <tspan font-family='"Liberation Serif", serif'>&#956;</tspan>g/mL)</text>
<text transform="translate(15.8,336.6) rotate(-90)" x="0" y="0" font-size="18" textLength="291.8" lengthAdjust="spacing">Antioxidant power (mg eq AS/g DE)</text>
<rect x="76.3" y="10" width="94.9" height="115.0" fill="#fff" stroke="#5a5a5a" stroke-width="1.1"/>
<clipPath id="c9"><rect x="86.6" y="23.5" width="32" height="10.1"/></clipPath>
<g clip-path="url(#c9)">
<rect x="86.6" y="23.5" width="32" height="10.1" fill="#333"/>
<path d="M70,23.5 L80.1,33.6 M70,23.5 L59.9,33.6 M74,23.5 L84.1,33.6 M74,23.5 L63.9,33.6 M78,23.5 L88.1,33.6 M78,23.5 L67.9,33.6 M82,23.5 L92.1,33.6 M82,23.5 L71.9,33.6 M86,23.5 L96.1,33.6 M86,23.5 L75.9,33.6 M90,23.5 L100.1,33.6 M90,23.5 L79.9,33.6 M94,23.5 L104.1,33.6 M94,23.5 L83.9,33.6 M98,23.5 L108.1,33.6 M98,23.5 L87.9,33.6 M102,23.5 L112.1,33.6 M102,23.5 L91.9,33.6 M106,23.5 L116.1,33.6 M106,23.5 L95.9,33.6 M110,23.5 L120.1,33.6 M110,23.5 L99.9,33.6 M114,23.5 L124.1,33.6 M114,23.5 L103.9,33.6 M118,23.5 L128.1,33.6 M118,23.5 L107.9,33.6 M122,23.5 L132.1,33.6 M122,23.5 L111.9,33.6 M126,23.5 L136.1,33.6 M126,23.5 L115.9,33.6 M130,23.5 L140.1,33.6 M130,23.5 L119.9,33.6 M134,23.5 L144.1,33.6 M134,23.5 L123.9,33.6" stroke="#ccc" stroke-width="0.75" fill="none"/>
<path d="M86.6,27.4 H118.6" stroke="#eee" stroke-width="0.9"/>
</g>
<rect x="86.6" y="23.5" width="32" height="10.1" fill="none" stroke="#000" stroke-width="1.2"/>
<text transform="translate(127.6,34) scale(0.92,1)" font-size="15.5">GEE</text>
<clipPath id="c10"><rect x="86.6" y="43" width="32" height="10.1"/></clipPath>
<g clip-path="url(#c10)">
<rect x="86.6" y="43" width="32" height="10.1" fill="#fff"/>
<path d="M86.6,36.9 H118.6 M70.4,36.9 V41.05 M78.9,36.9 V41.05 M87.4,36.9 V41.05 M95.9,36.9 V41.05 M104.4,36.9 V41.05 M112.9,36.9 V41.05 M121.4,36.9 V41.05 M129.9,36.9 V41.05 M86.6,41.05 H118.6 M75.1,41.05 V45.2 M83.6,41.05 V45.2 M92.1,41.05 V45.2 M100.6,41.05 V45.2 M109.1,41.05 V45.2 M117.6,41.05 V45.2 M126.1,41.05 V45.2 M134.6,41.05 V45.2 M86.6,45.2 H118.6 M70.4,45.2 V49.35 M78.9,45.2 V49.35 M87.4,45.2 V49.35 M95.9,45.2 V49.35 M104.4,45.2 V49.35 M112.9,45.2 V49.35 M121.4,45.2 V49.35 M129.9,45.2 V49.35 M86.6,49.35 H118.6 M75.1,49.35 V53.5 M83.6,49.35 V53.5 M92.1,49.35 V53.5 M100.6,49.35 V53.5 M109.1,49.35 V53.5 M117.6,49.35 V53.5 M126.1,49.35 V53.5 M134.6,49.35 V53.5 M86.6,53.5 H118.6 M70.4,53.5 V57.65 M78.9,53.5 V57.65 M87.4,53.5 V57.65 M95.9,53.5 V57.65 M104.4,53.5 V57.65 M112.9,53.5 V57.65 M121.4,53.5 V57.65 M129.9,53.5 V57.65 M86.6,57.65 H118.6 M75.1,57.65 V61.8 M83.6,57.65 V61.8 M92.1,57.65 V61.8 M100.6,57.65 V61.8 M109.1,57.65 V61.8 M117.6,57.65 V61.8 M126.1,57.65 V61.8 M134.6,57.65 V61.8" stroke="#000" stroke-width="1.2" fill="none"/>
</g>
<rect x="86.6" y="43" width="32" height="10.1" fill="none" stroke="#000" stroke-width="1.2"/>
<text transform="translate(127.6,53.5) scale(0.92,1)" font-size="15.5">GEH</text>
<clipPath id="c11"><rect x="86.6" y="62.6" width="32" height="9.5"/></clipPath>
<g clip-path="url(#c11)">
<rect x="86.6" y="62.6" width="32" height="9.5" fill="#eee"/>
<path d="M85.6,23.56 L119.6,55.86 M85.6,28.41 L119.6,60.71 M85.6,33.26 L119.6,65.56 M85.6,38.11 L119.6,70.41 M85.6,42.96 L119.6,75.26 M85.6,47.81 L119.6,80.11 M85.6,52.66 L119.6,84.96 M85.6,57.51 L119.6,89.81 M85.6,62.36 L119.6,94.66 M85.6,67.21 L119.6,99.51 M85.6,72.06 L119.6,104.36 M85.6,76.91 L119.6,109.21 M85.6,81.76 L119.6,114.06" stroke="#000" stroke-width="1.15" fill="none"/>
</g>
<rect x="86.6" y="62.6" width="32" height="9.5" fill="none" stroke="#000" stroke-width="1.2"/>
<text transform="translate(127.6,73.1) scale(0.92,1)" font-size="15.5">GFE</text>
<clipPath id="c12"><rect x="86.6" y="82.1" width="32" height="9.6"/></clipPath>
<g clip-path="url(#c12)">
<rect x="86.6" y="82.1" width="32" height="9.6" fill="#fff"/>
<path d="M90.15,73.55 h1.7 v1.7 h-1.7z M90.15,80.55 h1.7 v1.7 h-1.7z M90.15,87.55 h1.7 v1.7 h-1.7z M90.15,94.55 h1.7 v1.7 h-1.7z M90.15,101.55 h1.7 v1.7 h-1.7z" fill="#222"/>
<path d="M97.75,69.95 h1.7 v1.7 h-1.7z M97.75,76.95 h1.7 v1.7 h-1.7z M97.75,83.95 h1.7 v1.7 h-1.7z M97.75,90.95 h1.7 v1.7 h-1.7z M97.75,97.95 h1.7 v1.7 h-1.7z" fill="#222"/>
<path d="M105.35,73.55 h1.7 v1.7 h-1.7z M105.35,80.55 h1.7 v1.7 h-1.7z M105.35,87.55 h1.7 v1.7 h-1.7z M105.35,94.55 h1.7 v1.7 h-1.7z M105.35,101.55 h1.7 v1.7 h-1.7z" fill="#222"/>
<path d="M112.95,69.95 h1.7 v1.7 h-1.7z M112.95,76.95 h1.7 v1.7 h-1.7z M112.95,83.95 h1.7 v1.7 h-1.7z M112.95,90.95 h1.7 v1.7 h-1.7z M112.95,97.95 h1.7 v1.7 h-1.7z" fill="#222"/>
</g>
<rect x="86.6" y="82.1" width="32" height="9.6" fill="none" stroke="#000" stroke-width="1.2"/>
<text transform="translate(127.6,92.6) scale(0.92,1)" font-size="15.5">GFH</text>
<rect x="86.6" y="101.7" width="32" height="9.5" fill="#424242"/>
<rect x="86.6" y="101.7" width="32" height="9.5" fill="none" stroke="#000" stroke-width="1.2"/>
<text transform="translate(127.6,112.2) scale(0.92,1)" font-size="15.5">BHT</text>
</svg></body></html>
